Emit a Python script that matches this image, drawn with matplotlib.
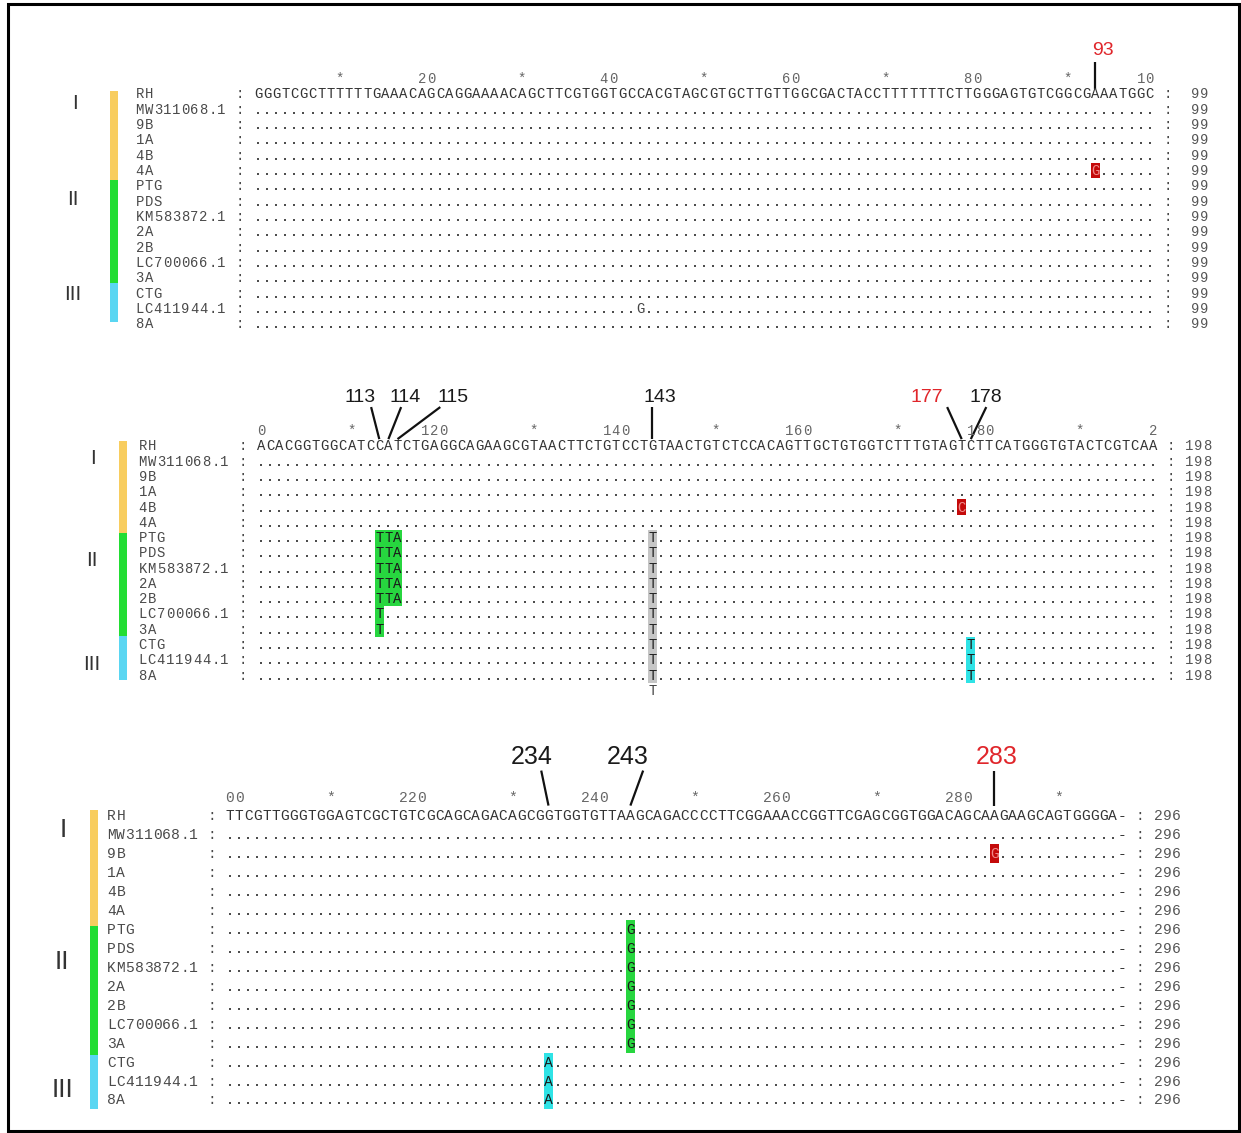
import matplotlib
matplotlib.use('Agg')
import matplotlib.pyplot as plt
from matplotlib.patches import Rectangle

W, H, DPI = 1241, 1133, 100

# ------------------------------------------------------------------ data
names = ['RH', 'MW311068.1', '9B', '1A', '4B', '4A', 'PTG', 'PDS', 'KM583872.1',
         '2A', '2B', 'LC700066.1', '3A', 'CTG', 'LC411944.1', '8A']
group_labels = ['I', 'II', 'III']
group_colors = ['#f8cd5f', '#22dd33', '#5ad6f2']

ref_blocks = [
    'GGGTCGCTTTTTTGAAACAGCAGGAAAACAGCTTCGTGGTGCCACGTAGCGTGCTTGTTGGCGACTACCTTTTTTTCTTGGGAGTGTCGGCGAAATGGC',
    'ACACGGTGGCATCCATCTGAGGCAGAAGCGTAACTTCTGTCCTGTAACTGTCTCCACAGTTGCTGTGGTCTTTGTAGTCTTCATGGGTGTACTCGTCAA',
    'TTCGTTGGGTGGAGTCGCTGTCGCAGCAGACAGCGGTGGTGTTAAGCAGACCCCTTCGGAAACCGGTTCGAGCGGTGGACAGCAAGAAGCAGTGGGGA-',
]
block_starts = [1, 100, 199]
block_counts = [99, 198, 296]

group_II = ['PTG', 'PDS', 'KM583872.1', '2A', '2B', 'LC700066.1', '3A']
group_III = ['CTG', 'LC411944.1', '8A']
tta_rows = ['PTG', 'PDS', 'KM583872.1', '2A', '2B']

# (sequences, alignment position, base, highlight)
variant_sets = [
    (['4A'], 93, 'G', 'red'),
    (['LC411944.1'], 43, 'G', 'none'),
    (group_II, 113, 'T', 'green'),
    (tta_rows, 114, 'T', 'green'),
    (tta_rows, 115, 'A', 'green'),
    (group_II + group_III, 143, 'T', 'grey'),
    (['4B'], 177, 'C', 'red'),
    (group_III, 178, 'T', 'cyan'),
    (group_III, 234, 'A', 'cyan'),
    (group_II, 243, 'G', 'green'),
    (['9B'], 283, 'G', 'red'),
]
consensus_extra = [(143, 'T')]          # shown under block 2

annot_sites = [93, 113, 114, 115, 143, 177, 178, 234, 243, 283]
annot_colors = ['red', 'black', 'black', 'black', 'black', 'red', 'black',
                'black', 'black', 'red']

# ------------------------------------------------------------------ style / layout
MONO = 'Liberation Mono'
SANS = 'Liberation Sans'
CW = 9.1
hl_colors = {'red': '#c40a0a', 'green': '#27d63f', 'grey': '#c6c6c6', 'cyan': '#2fe3e6'}
hl_text = {'red': '#f08a8a', 'green': '#1a1a1a', 'grey': '#222222', 'cyan': '#1a1a1a',
           'none': '#444444'}
ann_col = {'red': '#e0262b', 'black': '#1a1a1a'}

layouts = [
    dict(x0=258, y0=94, dy=15.33, bar=(110, 118), bar_rows=[-0.2, 5.6, 12.35, 14.9],
         roman_x=[75, 73, 73], roman_rows=[0.65, 6.85, 13.05], roman_fs=15,
         mono_fs=10, ann_fs=14, label_row=-2.87, line_top=-2.09, line_bot=-0.3),
    dict(x0=261, y0=446, dy=15.27, bar=(119, 127), bar_rows=[-0.35, 5.7, 12.45, 15.3],
         roman_x=[93, 92, 92], roman_rows=[0.8, 7.5, 14.3], roman_fs=15,
         mono_fs=10, ann_fs=14, label_row=-3.2, line_top=-2.55, line_bot=-0.45),
    dict(x0=230, y0=816, dy=18.93, bar=(90, 98), bar_rows=[-0.3, 5.8, 12.6, 15.5],
         roman_x=[63, 62, 62], roman_rows=[0.74, 7.7, 14.5], roman_fs=19,
         mono_fs=10.5, ann_fs=18, label_row=-3.1, line_top=-2.4, line_bot=-0.55),
]
# per-site label offset / line-top offset (columns)
ann_offsets = {93: (0.9, 0.0), 113: (-2.1, -0.9), 114: (1.8, 1.4), 115: (6.1, 4.7),
               143: (0.85, 0.0), 177: (-3.8, -1.6), 178: (1.7, 1.7),
               234: (-1.9, -0.8), 243: (-0.25, 1.4), 283: (0.2, 0.0)}

fig = plt.figure(figsize=(W / DPI, H / DPI), dpi=DPI)
fig.patch.set_facecolor('white')

row_of = {n: i for i, n in enumerate(names)}
var_map = {}
for seqs, pos, base, hl in variant_sets:
    for s in seqs:
        var_map[(s, pos)] = (base, hl)

for b, (ref, start, count, L) in enumerate(zip(ref_blocks, block_starts, block_counts, layouts)):
    ax = fig.add_axes([0, 0, 1, 1])
    ax.set_axis_off()
    ax.patch.set_visible(False)
    x0, y0, dy = L['x0'], L['y0'], L['dy']
    colx = lambda px: start + (px - x0) / CW
    rowy = lambda py: (py - y0) / dy
    ax.set_xlim(colx(0), colx(W))
    ax.set_ylim(rowy(H), rowy(0))
    base_off = 4.5 / dy
    fs = L['mono_fs']
    end_col = start + len(ref) - 1

    def put(col, row, ch, color, size=fs):
        ax.text(col, row + base_off, ch, ha='center', va='baseline',
                fontfamily=MONO, fontsize=size, color=color)

    # tick row
    for m in range(((start - 10) // 10) * 10, end_col + 20, 10):
        if m <= 0:
            continue
        lab = str(m) if m % 20 == 0 else '*'
        for k, ch in enumerate(lab):
            c = m - len(lab) + 1 + k
            if start <= c <= end_col:
                put(c, -1, ch, '#666666')

    # sequences
    dot_x, dot_y = [], []
    for r, nm in enumerate(names):
        for k, ch in enumerate(nm):
            put(start - 13 + k, r, ch, '#4a4a4a')
        put(start - 2, r, ':', '#4a4a4a')
        put(start + 100, r, ':', '#4a4a4a')
        num = str(count)
        for k, ch in enumerate(num):
            put(start + 104 - len(num) + 1 + k, r, ch, '#555555')
        for i, refch in enumerate(ref):
            pos = start + i
            if r == 0:
                put(pos, r, refch, '#333333')
                continue
            if (nm, pos) in var_map:
                base, hl = var_map[(nm, pos)]
                if hl != 'none':
                    ax.add_patch(Rectangle((pos - 0.5, r - 0.5), 1, 1, facecolor=hl_colors[hl],
                                           edgecolor='none', zorder=1))
                put(pos, r, base, hl_text[hl])
            elif refch == '-':
                put(pos, r, '-', '#333333')
            else:
                dot_x.append(pos)
                dot_y.append(r + base_off - 1.0 / dy)
    ax.scatter(dot_x, dot_y, s=2.6, marker='s', color='#4d4d4d', linewidths=0, zorder=2)

    # consensus extra row
    for pos, ch in consensus_extra:
        if start <= pos <= end_col:
            put(pos, len(names), ch, '#444444')

    # group bars and roman numerals
    bx0, bx1 = colx(L['bar'][0]), colx(L['bar'][1])
    br = L['bar_rows']
    for g in range(3):
        ax.add_patch(Rectangle((bx0, br[g]), bx1 - bx0, br[g + 1] - br[g],
                               facecolor=group_colors[g], edgecolor='none'))
        ax.text(colx(L['roman_x'][g]), L['roman_rows'][g], group_labels[g], ha='center',
                va='center', fontfamily=SANS, fontsize=L['roman_fs'], color='#333333')

    # annotations
    for site, colr in zip(annot_sites, annot_colors):
        if not (start <= site <= end_col):
            continue
        ldx, tdx = ann_offsets[site]
        ax.text(site + ldx, L['label_row'], str(site), ha='center', va='center',
                fontfamily=SANS, fontsize=L['ann_fs'], color=ann_col[colr])
        ax.plot([site + tdx, site], [L['line_top'], L['line_bot']], color='#111111',
                lw=1.6, solid_capstyle='butt')

fig.add_artist(Rectangle((8 / W, 1 - 1131 / H), (1239 - 8) / W, (1131 - 4) / H,
                         transform=fig.transFigure, fill=False, lw=2.2, ec='black'))

fig.savefig('out.png', dpi=DPI, facecolor='white')
